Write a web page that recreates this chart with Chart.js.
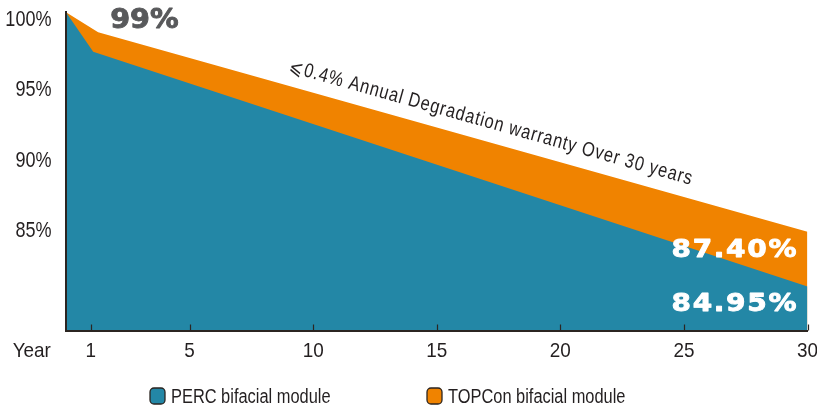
<!DOCTYPE html>
<html>
<head>
<meta charset="utf-8">
<script src="https://cdn.jsdelivr.net/npm/chart.js@4.4.1/dist/chart.umd.min.js"></script>
<style>
  html, body { margin: 0; padding: 0; background: #fff; }
</style>
</head>
<body>
<canvas id="warranty-chart" width="817" height="408"></canvas>
<script>
// values (years, % of initial power)
var percYears = [0, 1.1, 30];
var perc = [100.4, 97.6, 80.96];
var topconYears = [0, 1.3, 30];
var topcon = [100.4, 98.97, 84.85];

var yearTicks = [1, 5, 10, 15, 20, 25, 30];
var percentTicks = [85, 90, 95, 100];

var seriesNames = ["PERC bifacial module", "TOPCon bifacial module"];
var endLabels = ["84.95%", "87.40%"];
var kinkLabel = "99%";
var note = "⩽0.4% Annual Degradation warranty Over 30 years";

var BLUE = "#2387a6";
var ORANGE = "#f08300";
var INK = "#231f20";
var SANS = '"Liberation Sans", Arial, sans-serif';
var NARROW = 0.82;   // squeeze for the condensed look of the original

function points(xs, ys) {
  return xs.map(function (x, i) { return { x: x, y: ys[i] }; });
}

// draw text with a horizontal stretch (<1 condensed, >1 extended)
function stretchText(ctx, text, px, py, align, font, color, stretch, spacing, heavy) {
  ctx.save();
  ctx.font = font;
  ctx.letterSpacing = (spacing || 0) + 'px';
  ctx.fillStyle = color;
  ctx.textAlign = 'left';
  ctx.textBaseline = 'alphabetic';
  var w = (ctx.measureText(text).width - (spacing || 0)) * stretch;
  var left = px;
  if (align === 'right') left = px - w;
  if (align === 'center') left = px - w / 2;
  ctx.translate(left, py);
  ctx.scale(stretch, 1);
  ctx.fillText(text, 0, 0);
  if (heavy) {
    ctx.strokeStyle = color;
    ctx.lineWidth = heavy;
    ctx.lineJoin = 'round';
    ctx.strokeText(text, 0, 0);
  }
  ctx.restore();
}

var extras = {
  id: 'extras',
  afterDraw: function (chart) {
    var ctx = chart.ctx;
    var x = chart.scales.x, y = chart.scales.y;

    // small inward ticks on the year axis
    ctx.save();
    ctx.strokeStyle = "#2b2521";
    ctx.lineWidth = 1.2;
    yearTicks.forEach(function (t) {
      var px = Math.round(x.getPixelForValue(t)) + 0.5;
      ctx.beginPath();
      ctx.moveTo(px, y.bottom);
      ctx.lineTo(px, y.bottom - 6);
      ctx.stroke();
    });
    ctx.restore();

    // axis labels (condensed)
    y.ticks.forEach(function (t) {
      stretchText(ctx, t.value + '%', 51.5, y.getPixelForValue(t.value) + 7.9, 'right', '22px ' + SANS, INK, NARROW);
    });
    x.ticks.forEach(function (t) {
      stretchText(ctx, String(t.value), x.getPixelForValue(t.value), 356.7, 'center', '21px ' + SANS, INK, 0.9);
    });
    stretchText(ctx, 'Year', 12.7, 356.7, 'left', '21px ' + SANS, INK, 0.9);

    // big value labels
    var right = x.getPixelForValue(30) - 11;
    stretchText(ctx, endLabels[1], right, y.bottom - 73.5, 'right', 'bold 25px "DejaVu Sans"', '#fff', 1.12, 1.5, 0.9);
    stretchText(ctx, endLabels[0], right, y.bottom - 19.5, 'right', 'bold 25px "DejaVu Sans"', '#fff', 1.12, 1.5, 0.9);
    stretchText(ctx, kinkLabel, x.getPixelForValue(topconYears[1]) + 12, 28.3, 'left', 'bold 26px "DejaVu Sans"', '#58595b', 1.1, 0, 0.9);

    // slanted note along the orange edge
    var x1 = x.getPixelForValue(topconYears[1]), y1 = y.getPixelForValue(topcon[1]);
    var x2 = x.getPixelForValue(30), y2 = y.getPixelForValue(topcon[2]);
    var ang = Math.atan2(y2 - y1, x2 - x1);
    var sx = x.getPixelForValue(8.85);
    var sy = y1 + (sx - x1) * Math.tan(ang);
    ctx.save();
    ctx.translate(sx + Math.sin(ang) * 13.5, sy - Math.cos(ang) * 13.5);
    ctx.rotate(ang);
    stretchText(ctx, note, 0, 0, 'left', '20px ' + SANS, INK, NARROW, 1.1);
    ctx.restore();

    // legend
    var legendX = [150, 427];
    chart.data.datasets.forEach(function (ds, i) {
      var bx = legendX[i], by = 388;
      ctx.save();
      ctx.beginPath();
      ctx.roundRect(bx, by, 15, 16, 4);
      ctx.fillStyle = ds.backgroundColor;
      ctx.fill();
      ctx.lineWidth = 1.3;
      ctx.strokeStyle = "#2b2521";
      ctx.stroke();
      ctx.restore();
      stretchText(ctx, ds.label, bx + 21, by + 15, 'left', '20px ' + SANS, INK, NARROW);
    });
  }
};

new Chart(document.getElementById("warranty-chart"), {
  type: 'line',
  data: {
    datasets: [{
      label: seriesNames[0],
      data: points(percYears, perc),
      backgroundColor: BLUE,
      borderColor: BLUE,
      fill: 'start'
    }, {
      label: seriesNames[1],
      data: points(topconYears, topcon),
      backgroundColor: ORANGE,
      borderColor: ORANGE,
      fill: 'start'
    }]
  },
  options: {
    responsive: false,
    animation: false,
    layout: { padding: { top: 12, right: 9.5, left: 0, bottom: 0 } },
    elements: {
      point: { radius: 0 },
      line: { borderWidth: 0, tension: 0 }
    },
    plugins: {
      legend: { display: false },
      tooltip: { enabled: false }
    },
    scales: {
      x: {
        type: 'linear',
        min: 0,
        max: 30,
        afterBuildTicks: function (s) { s.ticks = yearTicks.map(function (v) { return { value: v }; }); },
        afterFit: function (s) { s.height = 77.5; },
        grid: { display: false, drawTicks: false },
        border: { display: true, color: "#2b2521", width: 2, z: 1 },
        ticks: { display: false }
      },
      y: {
        min: 77.85,
        max: 100.41,
        afterBuildTicks: function (s) { s.ticks = percentTicks.map(function (v) { return { value: v }; }); },
        afterFit: function (s) { s.width = 66; },
        grid: { display: false, drawTicks: false },
        border: { display: true, color: "#2b2521", width: 2, z: 1 },
        ticks: { display: false }
      }
    }
  },
  plugins: [extras]
});
</script>
</body>
</html>
